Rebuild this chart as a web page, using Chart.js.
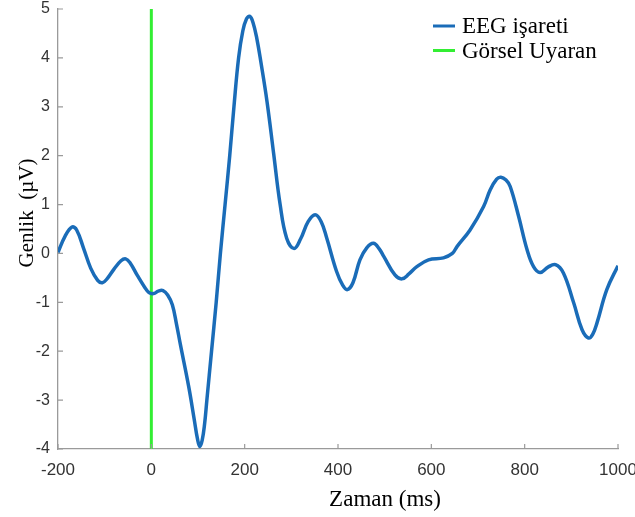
<!DOCTYPE html>
<html>
<head>
<meta charset="utf-8">
<script src="https://cdn.jsdelivr.net/npm/chart.js@4.4.1/dist/chart.umd.min.js"></script>
<style>
    html, body { margin: 0; padding: 0; background: #fff; }
    #wrap { width: 635px; height: 517px; position: relative; }
</style>
</head>
<body>
<div id="wrap"><canvas id="eegChart"></canvas></div>
<script>
// EEG trace (time in ms, amplitude in µV)
const timeMs = [-200, -185, -170, -160, -145, -130, -115, -105, -95, -80, -65, -55, -45, -30, -15, -5,
    5, 15, 25, 35, 45, 54, 62, 80, 92, 99, 104, 109, 114, 119, 129, 139, 148, 158, 168, 177, 187, 196, 204, 211,
    218, 226, 235, 248, 262, 276, 290, 306, 320, 336, 351, 364, 376, 397, 410, 420, 432, 447, 462,
    476, 488, 498, 522, 537, 552, 569, 594, 626, 645, 655, 683, 712, 726, 740, 749, 760, 769,
    787, 805, 819, 833, 850, 866, 883, 905, 923, 937, 946, 955, 976, 1000];
const eegUv = [0.02, 0.35, 0.54, 0.48, 0.1, -0.3, -0.55, -0.6, -0.52, -0.32, -0.15, -0.11, -0.2, -0.45, -0.68, -0.8,
    -0.82, -0.77, -0.76, -0.85, -1.05, -1.45, -1.85, -2.72, -3.4, -3.8, -3.95, -3.82, -3.5, -3.0, -2.0, -1.0, 0.0, 1.0, 2.0, 3.0, 4.0, 4.55, 4.8, 4.85,
    4.72, 4.4, 3.9, 3.1, 2.05, 1.0, 0.31, 0.1, 0.3, 0.65, 0.79, 0.65, 0.31, -0.37, -0.65, -0.74, -0.6, -0.13, 0.12,
    0.21, 0.1, -0.06, -0.44, -0.52, -0.42, -0.27, -0.13, -0.09, 0.0, 0.14, 0.48, 0.96, 1.3, 1.52, 1.56, 1.5, 1.37,
    0.76, 0.08, -0.27, -0.39, -0.28, -0.23, -0.4, -1.01, -1.56, -1.73, -1.65, -1.42, -0.74, -0.25];

// stimulus onset marker
const stimulusTime = [0, 0];
const stimulusLevel = [-4, 5];

const xTicks = [-200, 0, 200, 400, 600, 800, 1000];
const yTicks = [-4, -3, -2, -1, 0, 1, 2, 3, 4, 5];
const seriesNames = ['EEG işareti', 'Görsel Uyaran'];
const xTitle = 'Zaman (ms)';
const yTitle = 'Genlik  (µV)';

const axisGray = '#9a9a9a';
const serif = '"Liberation Serif", "Times New Roman", serif';
const sans = '"Liberation Sans", Arial, sans-serif';

// inward ticks, axis titles and legend in the old MATLAB look
const matlabLook = {
    id: 'matlabLook',
    afterDraw(chart) {
        const { ctx, chartArea: a, scales: { x, y } } = chart;
        ctx.save();
        ctx.strokeStyle = axisGray;
        ctx.lineWidth = 1.2;
        ctx.beginPath();
        x.ticks.forEach(t => {
            const px = x.getPixelForValue(t.value);
            ctx.moveTo(px, a.bottom);
            ctx.lineTo(px, a.bottom - 5);
        });
        y.ticks.forEach(t => {
            const py = y.getPixelForValue(t.value);
            ctx.moveTo(a.left, py);
            ctx.lineTo(a.left + 5, py);
        });
        ctx.stroke();

        ctx.fillStyle = '#000';
        ctx.font = '23px ' + serif;
        ctx.textAlign = 'center';
        ctx.textBaseline = 'alphabetic';
        ctx.fillText(xTitle, 385, 506);

        ctx.save();
        ctx.translate(33, 213);
        ctx.rotate(-Math.PI / 2);
        ctx.font = '21px ' + serif;
        ctx.fillText(yTitle, 0, 0);
        ctx.restore();

        // legend
        ctx.textAlign = 'left';
        ctx.font = '23px ' + serif;
        chart.data.datasets.forEach((ds, i) => {
            const ly = 26 + i * 24.5;
            ctx.strokeStyle = ds.borderColor;
            ctx.lineWidth = 3;
            ctx.beginPath();
            ctx.moveTo(433, ly);
            ctx.lineTo(455, ly);
            ctx.stroke();
            ctx.fillStyle = '#000';
            ctx.fillText(ds.label, 462, ly + 7);
        });
        ctx.restore();
    }
};

new Chart(document.getElementById('eegChart'), {
    type: 'line',
    data: {
        datasets: [
            {
                label: seriesNames[0],
                data: timeMs.map((t, i) => ({ x: t, y: eegUv[i] })),
                borderColor: '#1a6cb8',
                borderWidth: 3.5,
                pointRadius: 0,
                tension: 0.4,
                order: 1
            },
            {
                label: seriesNames[1],
                data: stimulusTime.map((t, i) => ({ x: t, y: stimulusLevel[i] })),
                borderColor: '#33ee33',
                borderWidth: 3,
                pointRadius: 0,
                order: 2
            }
        ]
    },
    options: {
        responsive: true,
        maintainAspectRatio: false,
        animation: false,
        layout: { padding: { top: 9, right: 17, left: 0, bottom: 0 } },
        plugins: {
            legend: { display: false },
            tooltip: { enabled: false }
        },
        scales: {
            x: {
                type: 'linear',
                min: -200,
                max: 1000,
                afterBuildTicks: s => { s.ticks = xTicks.map(v => ({ value: v })); },
                afterFit: s => { s.height = 68; s.paddingLeft = 0; s.paddingRight = 0; },
                grid: { drawOnChartArea: false, drawTicks: false },
                border: { color: axisGray, width: 1.3 },
                ticks: {
                    font: { family: sans, size: 17 },
                    color: '#333',
                    padding: 11,
                    maxRotation: 0,
                    autoSkip: false,
                    callback: v => String(v)
                }
            },
            y: {
                type: 'linear',
                min: -4,
                max: 5,
                afterBuildTicks: s => { s.ticks = yTicks.map(v => ({ value: v })); },
                afterFit: s => { s.width = 58; s.paddingTop = 0; s.paddingBottom = 0; },
                grid: { drawOnChartArea: false, drawTicks: false },
                border: { color: axisGray, width: 1.3 },
                ticks: {
                    font: { family: sans, size: 16 },
                    color: '#333',
                    padding: 8,
                    callback: v => String(v)
                }
            }
        }
    },
    plugins: [matlabLook]
});
</script>
</body>
</html>
